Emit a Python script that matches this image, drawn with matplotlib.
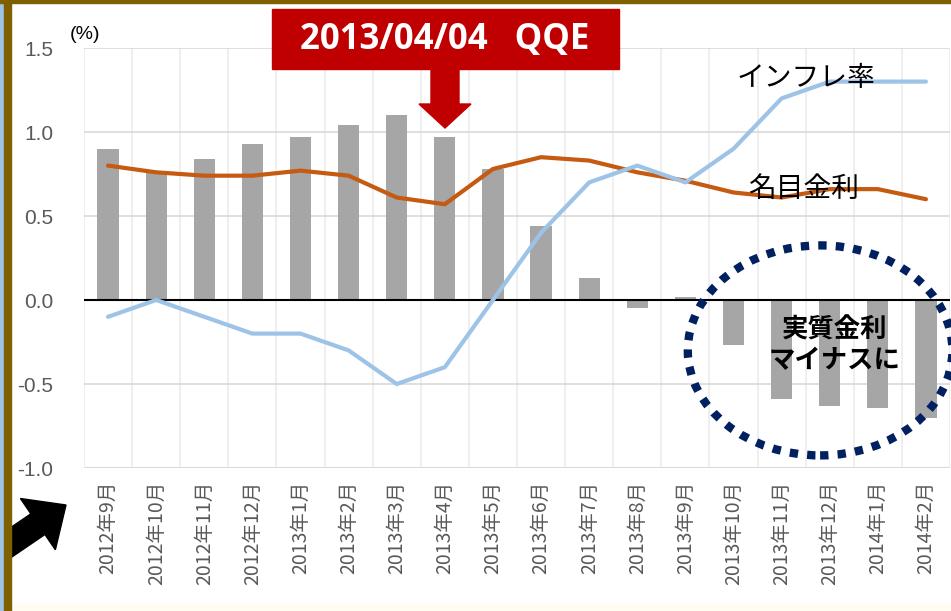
import matplotlib
matplotlib.use("Agg")
from matplotlib import pyplot as plt
from matplotlib.patches import Ellipse, Rectangle, FancyArrow
from matplotlib.transforms import IdentityTransform

plt.rcParams["font.family"] = ["Noto Sans CJK JP", "DejaVu Sans"]

months = [
    "2012年9月", "2012年10月", "2012年11月", "2012年12月",
    "2013年1月", "2013年2月", "2013年3月", "2013年4月",
    "2013年5月", "2013年6月", "2013年7月", "2013年8月",
    "2013年9月", "2013年10月", "2013年11月", "2013年12月",
    "2014年1月", "2014年2月",
]
real_rate = [0.90, 0.77, 0.84, 0.93, 0.97, 1.04, 1.10, 0.97, 0.78,
             0.44, 0.13, -0.05, 0.02, -0.27, -0.59, -0.63, -0.64, -0.70]
nominal_rate = [0.80, 0.76, 0.74, 0.74, 0.77, 0.74, 0.61, 0.57, 0.78,
                0.85, 0.83, 0.76, 0.71, 0.64, 0.61, 0.66, 0.66, 0.60]
inflation = [-0.1, 0.0, -0.1, -0.2, -0.2, -0.3, -0.5, -0.4, 0.0,
             0.4, 0.7, 0.8, 0.7, 0.9, 1.2, 1.3, 1.3, 1.3]
yticks = [1.5, 1.0, 0.5, 0.0, -0.5, -1.0]

W, H = 951, 611
fig = plt.figure(figsize=(W / 100, H / 100), dpi=100, facecolor="white")
ax = fig.add_axes([84 / W, 1 - 468 / H, 866 / W, 420 / H])
ax.set_facecolor("white")

x = list(range(len(months)))
ax.bar(x, real_rate, width=0.44, color="#a6a6a6", zorder=2)
ax.plot(x, nominal_rate, color="#c55a11", lw=3, zorder=3, solid_capstyle="round")
ax.plot(x, inflation, color="#9dc3e6", lw=3, zorder=3, solid_capstyle="round")
ax.axhline(0, color="black", lw=1.5, zorder=2.5)

ax.set_xlim(-0.5, len(months) - 0.5)
ax.set_ylim(-1.0, 1.5)
ax.set_yticks(yticks)
ax.set_yticklabels([f"{v:.1f}" for v in yticks], fontsize=15, color="#595959",
                   family=["Liberation Sans", "DejaVu Sans"])
ax.set_xticks(x)
ax.set_xticklabels(months, rotation=90, fontsize=14, color="#595959")
ax.set_xticks([i - 0.5 for i in range(len(months) + 1)], minor=True)
ax.tick_params(axis="both", which="both", length=0)
ax.tick_params(axis="x", pad=9)
ax.tick_params(axis="y", pad=22)
ax.grid(axis="y", color="#d9d9d9", lw=1.2, zorder=0)
ax.grid(axis="x", which="minor", color="#ececec", lw=1.2, zorder=0)
for s in ax.spines.values():
    s.set_visible(False)
ax.axhline(-1.0, color="#d9d9d9", lw=1.5, zorder=1)

ax.text(-0.8, 1.53, "(%)", fontsize=14, color="black", ha="left", va="bottom",
        family=["Liberation Sans", "DejaVu Sans"])

# series labels
ax.text(14.5, 1.32, "インフレ率", fontsize=20, ha="center", va="center", zorder=4)
ax.text(14.45, 0.66, "名目金利", fontsize=20, ha="center", va="center", zorder=4)

# QQE box and arrow (figure pixels)
tf = fig.transFigure
fig.patches.append(Rectangle((272 / W, 1 - 69 / H), 347 / W, 60 / H,
                             transform=tf, color="#c00000", zorder=5))
fig.text(445 / W, 1 - 40 / H, "2013/04/04   QQE", color="white", fontsize=25,
         fontweight="bold", ha="center", va="center", zorder=6,
         family=["Open Sans", "DejaVu Sans"])
fig.patches.append(FancyArrow(445 / W, 1 - 68 / H, 0, -60 / H, width=28 / W,
                              head_width=52 / W, head_length=24 / H,
                              length_includes_head=True, transform=tf,
                              color="#c00000", zorder=5))

# dotted ellipse
ax.add_patch(Ellipse((14.8, -0.3), 5.5, 1.25, fill=False, ec="#002060", lw=6,
                     ls=(0, (1, 1.1)), zorder=4, clip_on=False))
ax.text(15.1, -0.27, "実質金利\nマイナスに", fontsize=19, fontweight="bold",
        ha="center", va="center", linespacing=1.2, zorder=5)

# black arrow bottom-left (display pixels)
fig.patches.append(FancyArrow(-25, 44, 91, 62, width=25, head_width=62,
                              head_length=34, length_includes_head=True,
                              transform=IdentityTransform(), color="black",
                              zorder=6))

# frame decorations
fig.patches.append(Rectangle((0, 0), 4 / W, 1, transform=tf, color="#9dc3e6", zorder=7))
fig.patches.append(Rectangle((4 / W, 0), 7 / W, 1, transform=tf, color="#7f6000", zorder=7))
fig.patches.append(Rectangle((0, 1 - 3 / H), 1, 3 / H, transform=tf, color="#7f6000", zorder=7))
fig.patches.append(Rectangle((11 / W, 0), 1, 7 / H, transform=tf, color="#fffdf2", zorder=1))

fig.savefig("out.png", dpi=100, facecolor="white")
